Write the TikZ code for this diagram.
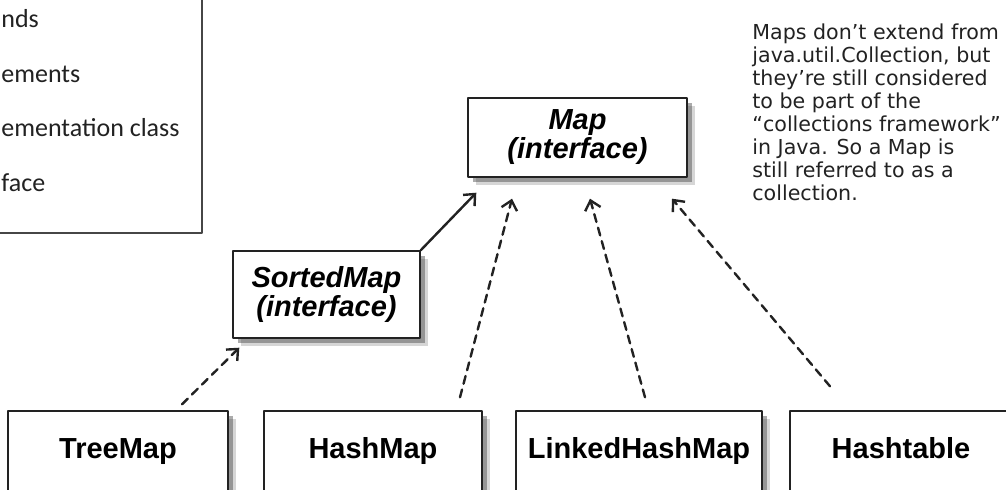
\documentclass[tikz,border=0pt]{standalone}
\usepackage{fontspec}
\setsansfont{Liberation Sans}
\newfontfamily\legendfont{Carlito}
\newfontfamily\notefont{DejaVu Sans}
\usepackage{tikz}
\usetikzlibrary{arrows.meta,shadows}
\definecolor{inkgray}{RGB}{34,34,34}
\definecolor{framegray}{RGB}{70,70,70}
\definecolor{shadegray}{RGB}{70,70,70}
\tikzset{
  every picture/.style={line cap=round,line join=round},
  box/.style={draw=inkgray,fill=white,line width=.7pt,inner sep=0pt,
    drop shadow={shadow xshift=4pt,shadow yshift=-4pt,
      fill=shadegray,opacity=.22},
    drop shadow={shadow xshift=2.4pt,shadow yshift=-2.4pt,
      fill=shadegray,opacity=.45}},
  classbox/.style={box,font=\sffamily\bfseries\fontsize{14.5}{14.5}\selectfont,
    text height=10.5pt,text depth=3pt,minimum height=40pt},
  ifacebox/.style={box,align=center,
    font=\sffamily\bfseries\itshape\fontsize{14.5}{14.5}\selectfont},
  extendsarrow/.style={-{Straight Barb[length=4.5pt,width=8pt]},
    line width=1.2pt,draw=inkgray},
  implarrow/.style={extendsarrow,dash pattern=on 4pt off 3pt},
  legendlab/.style={font=\legendfont\fontsize{13}{13}\selectfont,
    text=inkgray,anchor=base west,inner sep=0pt},
  legendframe/.style={draw=framegray,line width=1pt},
  note/.style={font=\notefont\fontsize{10.3}{11.5}\selectfont,text=inkgray,
    align=left,anchor=north west,inner sep=0pt}
}

\begin{document}
\begin{tikzpicture}[x=.5pt,y=-.5pt]
  \useasboundingbox (0,0) rectangle (1006,490);
  \fill[white] (0,0) rectangle (1006,490);
  \clip (0,0) rectangle (1006,490);

  % The legend, cut off at the left edge.
  \draw[legendframe] (-20,-20) rectangle (202,233);
  \foreach \y/\txt/\name in {28/nds/ext,83/ements/impl,
                             137/ementation class/cls,192/face/iface}{
    \node[legendlab] (leg\name) at (1,\y) {\txt};
  }

  % The two interfaces.
  \node[ifacebox,minimum width=109.5pt,minimum height=39.5pt]
    (map) at (577.5,137.5) {Map\\(interface)};
  \node[ifacebox,minimum width=93.5pt,minimum height=43.5pt]
    (sortedmap) at (326.5,294.5) {SortedMap\\(interface)};

  % The implementation classes along the bottom.
  \foreach \x/\w/\name/\txt in {118/110/treemap/TreeMap,
      373/109/hashmap/HashMap,639/123/linkedmap/LinkedHashMap,
      901/111/hashtable/Hashtable}{
    \node[classbox,minimum width=\w pt] (\name) at (\x,451) {\txt};
  }

  % Inheritance and implementation arrows.
  \draw[extendsarrow] (sortedmap.north east)--([shift={(9,15)}]map.south west);
  \draw[implarrow] ([shift={(64,-6)}]treemap.north)
    --([shift={(7,9)}]sortedmap.south west);
  \draw[implarrow] ([shift={(87,-13)}]hashmap.north)
    --([shift={(-65.5,21)}]map.south);
  \draw[implarrow] ([shift={(6,-13)}]linkedmap.north)
    --([shift={(12.5,21)}]map.south);
  \draw[implarrow] ([shift={(-71,-24)}]hashtable.north)
    --([shift={(94.5,21)}]map.south);

  % The handwritten remark.
  \node[note] (mapnote) at (752,23) {Maps don’t extend from\\
    java.util.Collection, but\\they’re still considered\\
    to be part of the\\“collections framework”\\
    in Java. So a Map is\\still referred to as a\\collection.};
\end{tikzpicture}
\end{document}
